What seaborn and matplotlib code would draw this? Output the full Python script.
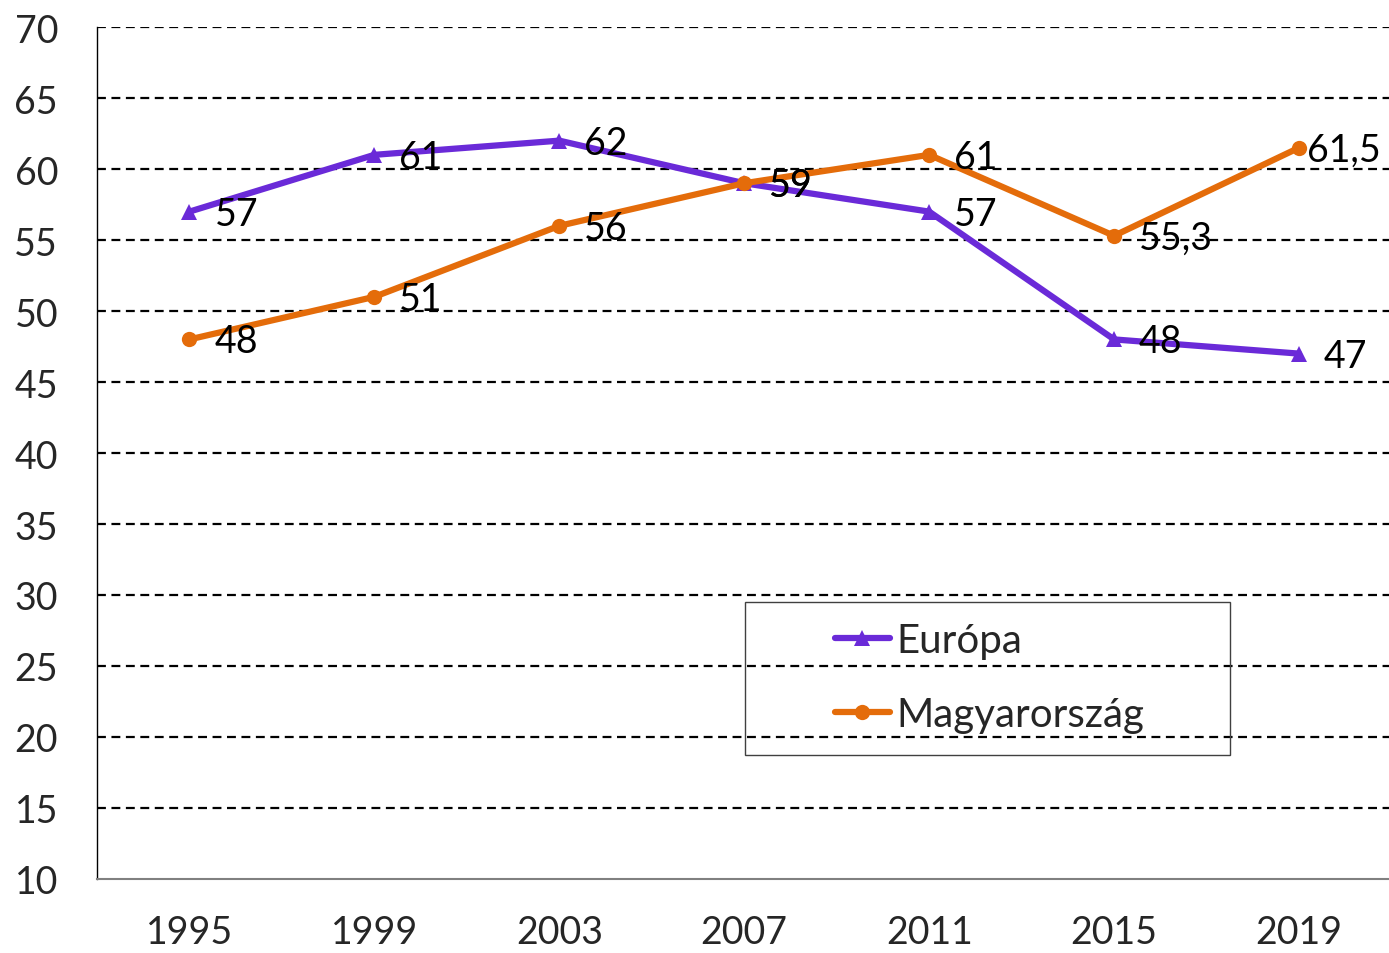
import numpy as np
import pandas as pd
import matplotlib
matplotlib.use("Agg")
import matplotlib.pyplot as plt
from matplotlib.patches import Rectangle
import seaborn as sns

# ── data ──
years = ["1995", "1999", "2003", "2007", "2011", "2015", "2019"]
europa = [57, 61, 62, 59, 57, 48, 47]
magyar = [48, 51, 56, 59, 61, 55.3, 61.5]
series_names = ["Európa", "Magyarország"]
y_ticks = list(range(10, 75, 5))

colors = {"Európa": "#6A2AD8", "Magyarország": "#E46C0A"}
markers = {"Európa": "^", "Magyarország": "o"}

df = pd.DataFrame({
    "year": years * 2,
    "pos": list(range(len(years))) * 2,
    "value": europa + magyar,
    "series": [series_names[0]] * len(years) + [series_names[1]] * len(years),
})

sns.set_style("white")
plt.rcParams["font.family"] = ["Lato", "DejaVu Sans"]

fig = plt.figure(figsize=(13.89, 9.54), dpi=100)
ax = fig.add_axes([0.0698, 0.0776, 0.932, 0.893])

sns.lineplot(data=df, x="pos", y="value", hue="series", style="series",
             markers=markers, dashes=False, palette=colors, linewidth=4.5,
             markersize=11, markeredgewidth=0, ax=ax, sort=False)

# data labels, to the right of each point
def fmt(v):
    s = f"{v:g}"
    return s.replace(".", ",")

for name, vals in zip(series_names, [europa, magyar]):
    for i, v in enumerate(vals):
        dx = 8 if (name == "Magyarország" and i == len(vals) - 1) else 25
        ax.annotate(fmt(v), xy=(i, v), xytext=(dx, -2), textcoords="offset pixels",
                    ha="left", va="center", fontsize=27, color="black")

ax.set_xlim(-0.5, len(years) - 0.5)
ax.set_ylim(10, 70)
ax.set_yticks(y_ticks)
ax.set_yticklabels([str(t) for t in y_ticks])
ax.set_xticks(range(len(years)))
ax.set_xticklabels(years)
ax.set_xticks(np.arange(-0.5, len(years)), minor=True)
ax.tick_params(axis="x", which="major", length=0, pad=25, labelsize=27)
ax.tick_params(axis="x", which="minor", length=9, width=1, color="#333333")
ax.tick_params(axis="y", length=9, width=1, color="#555555", labelsize=27, pad=19)
ax.set_xlabel("")
ax.set_ylabel("")

for t in y_ticks[1:]:
    ax.axhline(t, color="black", linestyle=(0, (4, 2.5)), linewidth=1.6, zorder=0)

for s in ["top", "right"]:
    ax.spines[s].set_visible(False)
ax.spines["left"].set_color("black")
ax.spines["left"].set_linewidth(1)
ax.spines["bottom"].set_color("#808080")
ax.spines["bottom"].set_linewidth(1.5)

# legend box drawn separately, entries inset like the reference
ax.add_patch(Rectangle((0.5006, 0.1455), 0.3747, 0.1796, transform=ax.transAxes,
                       facecolor="none", edgecolor="#404040", linewidth=1, zorder=5))
leg = ax.legend(loc="center left", bbox_to_anchor=(0.570, 0.236), fontsize=29,
                frameon=False, handlelength=1.37, handletextpad=0.17,
                labelspacing=0.92, borderaxespad=0, borderpad=0)
for line in leg.get_lines():
    line.set_linewidth(4.5)
    line.set_solid_capstyle("round")

fig.savefig("out.png", dpi=100)
